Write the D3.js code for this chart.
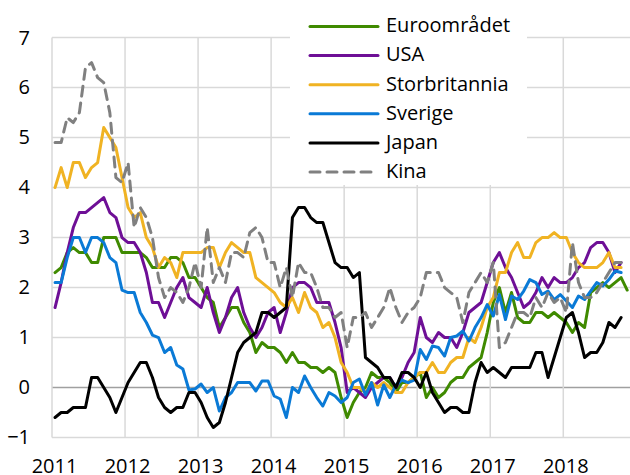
<!DOCTYPE html>
<html>
<head>
<meta charset="utf-8">
<script src="https://cdn.jsdelivr.net/npm/d3@7"></script>
<style>
  body { margin: 0; background: #fff; }
  svg { display: block; font-family: "Open Sans", sans-serif; }
</style>
</head>
<body>
<script>
// monthly inflation, % y/y, starting Jan 2011
var startYear = 2011;

var euro = [2.3, 2.4, 2.7, 2.8, 2.7, 2.7, 2.5, 2.5, 3.0, 3.0, 3.0, 2.7,
            2.7, 2.7, 2.7, 2.6, 2.4, 2.4, 2.4, 2.6, 2.6, 2.5, 2.2, 2.2,
            2.0, 1.8, 1.7, 1.2, 1.4, 1.6, 1.6, 1.3, 1.1, 0.7, 0.9, 0.8,
            0.8, 0.7, 0.5, 0.7, 0.5, 0.5, 0.4, 0.4, 0.3, 0.4, 0.3, -0.2,
            -0.6, -0.3, -0.1, 0.0, 0.3, 0.2, 0.2, 0.1, -0.1, 0.1, 0.1, 0.2,
            0.3, -0.2, 0.0, -0.2, -0.1, 0.1, 0.2, 0.2, 0.4, 0.5, 0.6, 1.1,
            1.7, 2.0, 1.5, 1.9, 1.4, 1.3, 1.3, 1.5, 1.5, 1.4, 1.5, 1.4,
            1.3, 1.1, 1.3, 1.2, 1.9, 2.0, 2.1, 2.0, 2.1, 2.2, 1.95];

var usa = [1.6, 2.1, 2.7, 3.2, 3.5, 3.5, 3.6, 3.7, 3.8, 3.5, 3.4, 3.0,
           2.9, 2.9, 2.7, 2.3, 1.7, 1.7, 1.4, 1.7, 2.0, 2.2, 1.8, 1.7,
           1.6, 2.0, 1.5, 1.1, 1.4, 1.8, 2.0, 1.5, 1.2, 1.0, 1.2, 1.5,
           1.6, 1.1, 1.5, 2.0, 2.1, 2.1, 2.0, 1.7, 1.7, 1.7, 1.3, 0.8,
           -0.1, 0.0, -0.1, -0.2, 0.0, 0.1, 0.2, 0.2, 0.0, 0.2, 0.5, 0.7,
           1.4, 1.0, 0.9, 1.1, 1.0, 1.0, 0.8, 1.1, 1.5, 1.6, 1.7, 2.1,
           2.5, 2.7, 2.4, 2.2, 1.9, 1.6, 1.7, 1.9, 2.2, 2.0, 2.2, 2.1,
           2.1, 2.2, 2.4, 2.5, 2.8, 2.9, 2.9, 2.7, 2.3, 2.5];

var uk = [4.0, 4.4, 4.0, 4.5, 4.5, 4.2, 4.4, 4.5, 5.2, 5.0, 4.8, 4.2,
          3.6, 3.4, 3.5, 3.0, 2.8, 2.4, 2.6, 2.5, 2.2, 2.7, 2.7, 2.7,
          2.7, 2.8, 2.8, 2.4, 2.7, 2.9, 2.8, 2.7, 2.7, 2.2, 2.1, 2.0,
          1.9, 1.7, 1.6, 1.8, 1.5, 1.9, 1.6, 1.5, 1.2, 1.3, 1.0, 0.5,
          0.3, 0.0, 0.0, -0.1, 0.1, 0.0, 0.1, 0.0, -0.1, -0.1, 0.1, 0.2,
          0.3, 0.3, 0.5, 0.3, 0.3, 0.5, 0.6, 0.6, 1.0, 0.9, 1.2, 1.6,
          1.8, 2.3, 2.3, 2.7, 2.9, 2.6, 2.6, 2.9, 3.0, 3.0, 3.1, 3.0,
          3.0, 2.7, 2.5, 2.4, 2.4, 2.4, 2.5, 2.7, 2.4, 2.4];

var sweden = [2.1, 2.1, 2.6, 3.0, 3.0, 2.7, 3.0, 3.0, 2.9, 2.6, 2.5, 1.95,
              1.9, 1.9, 1.5, 1.3, 1.05, 1.0, 0.7, 0.8, 0.45, 0.37, -0.05, -0.03,
              0.07, -0.1, 0.0, -0.47, -0.2, -0.1, 0.1, 0.1, 0.1, -0.07, 0.13, 0.13,
              -0.17, -0.23, -0.6, 0.0, -0.1, 0.23, 0.0, -0.2, -0.37, -0.1, -0.17, -0.3,
              -0.2, 0.1, 0.17, -0.15, 0.1, -0.35, 0.05, -0.2, 0.05, 0.15, 0.1, 0.15,
              0.76, 0.56, 0.83, 0.8, 0.63, 1.0, 1.03, 1.13, 0.93, 1.2, 1.4, 1.66,
              1.43, 1.86, 1.36, 1.83, 1.76, 1.93, 2.16, 2.1, 1.86, 1.93, 1.76, 1.86,
              1.73, 1.6, 1.83, 1.76, 1.93, 2.1, 2.03, 2.16, 2.33, 2.3];

var japan = [-0.6, -0.5, -0.5, -0.4, -0.4, -0.4, 0.2, 0.2, 0.0, -0.2, -0.5, -0.2,
             0.1, 0.3, 0.5, 0.5, 0.2, -0.2, -0.4, -0.5, -0.4, -0.4, -0.1, -0.1,
             -0.3, -0.6, -0.8, -0.7, -0.3, 0.2, 0.7, 0.9, 1.0, 1.1, 1.5, 1.5,
             1.4, 1.5, 1.6, 3.4, 3.6, 3.6, 3.4, 3.3, 3.3, 2.9, 2.5, 2.4,
             2.4, 2.2, 2.3, 0.6, 0.5, 0.4, 0.2, 0.2, 0.0, 0.3, 0.3, 0.2,
             0.0, 0.3, -0.1, -0.3, -0.5, -0.4, -0.4, -0.5, -0.5, 0.1, 0.5, 0.3,
             0.4, 0.3, 0.2, 0.4, 0.4, 0.4, 0.4, 0.7, 0.7, 0.2, 0.6, 1.0,
             1.4, 1.5, 1.1, 0.6, 0.7, 0.7, 0.9, 1.3, 1.2, 1.4];

var china = [4.9, 4.9, 5.4, 5.3, 5.5, 6.4, 6.5, 6.2, 6.1, 5.5, 4.2, 4.1,
             4.5, 3.2, 3.6, 3.4, 3.0, 2.2, 1.8, 2.0, 1.9, 1.7, 2.0, 2.5,
             2.0, 3.2, 2.1, 2.4, 2.1, 2.7, 2.7, 2.6, 3.1, 3.2, 3.0, 2.5,
             2.5, 2.0, 2.4, 1.8, 2.5, 2.3, 2.3, 2.0, 1.6, 1.6, 1.4, 1.5,
             0.8, 1.4, 1.4, 1.5, 1.2, 1.4, 1.6, 2.0, 1.6, 1.3, 1.5, 1.6,
             1.8, 2.3, 2.3, 2.3, 2.0, 1.9, 1.8, 1.3, 1.9, 2.1, 2.3, 2.1,
             2.5, 0.8, 0.9, 1.2, 1.5, 1.5, 1.4, 1.8, 1.6, 1.9, 1.7, 1.8,
             1.5, 2.9, 2.1, 1.8, 1.8, 1.9, 2.1, 2.3, 2.5, 2.5];

var names = ["Euroområdet", "USA", "Storbritannia", "Sverige", "Japan", "Kina"];
var colors = ["#3f8a00", "#6e0f96", "#f0b323", "#0a7ad6", "#000000", "#808080"];
var seriesData = [euro, usa, uk, sweden, japan, china];

var yTicks = [-1, 0, 1, 2, 3, 4, 5, 6, 7];
var xYears = [2011, 2012, 2013, 2014, 2015, 2016, 2017, 2018];

var width = 630, height = 475;
var left = 52;
var kinaDash = "10,7";

var svg = d3.select("body").append("svg")
    .attr("width", width)
    .attr("height", height);

var x = d3.scaleLinear().domain([2011, 2019]).range([left, left + 8 * 73.04]);
var y = d3.scaleLinear().domain([-1, 7]).range([437.5, 37.6]);

// grid
svg.append("g").selectAll("line")
    .data(yTicks)
    .enter().append("line")
    .attr("x1", left).attr("x2", width)
    .attr("y1", d => y(d)).attr("y2", d => y(d))
    .attr("stroke", d => d === 0 ? "#a0a0a0" : "#d9d9d9")
    .attr("stroke-width", 1.5);

svg.append("g").selectAll("line")
    .data(xYears)
    .enter().append("line")
    .attr("x1", d => x(d)).attr("x2", d => x(d))
    .attr("y1", y(-1)).attr("y2", y(7))
    .attr("stroke", "#d9d9d9")
    .attr("stroke-width", 1.5);

// legend background covers grid
svg.append("rect")
    .attr("x", 290).attr("y", 0)
    .attr("width", 237).attr("height", 185)
    .attr("fill", "#fff");

// axes (labels only)
var yAxis = svg.append("g")
    .attr("transform", "translate(" + left + ",0)")
    .call(d3.axisLeft(y).tickValues(yTicks).tickSize(0).tickPadding(22));

var xAxis = svg.append("g")
    .attr("transform", "translate(2," + y(-1) + ")")
    .call(d3.axisBottom(x).tickValues(xYears).tickFormat(d3.format("d")).tickSize(0).tickPadding(21.5));

[yAxis, xAxis].forEach(function(g) {
  g.select(".domain").remove();
  g.selectAll("text")
    .attr("font-family", "'Open Sans', sans-serif")
    .attr("font-size", 20)
    .attr("fill", "#000");
});

// lines
var line = d3.line()
    .x((d, i) => x(startYear + (i + 0.5) / 12))
    .y(d => y(d));

svg.append("g").selectAll("path")
    .data(seriesData)
    .enter().append("path")
    .attr("d", d => line(d))
    .attr("fill", "none")
    .attr("stroke", (d, i) => colors[i])
    .attr("stroke-width", 3)
    .attr("stroke-linejoin", "round")
    .attr("stroke-linecap", "round")
    .attr("stroke-dasharray", (d, i) => names[i] === "Kina" ? kinaDash : null);

// legend
var legend = svg.append("g");
var rowY = i => 26.5 + i * 29.1;

legend.selectAll("line")
    .data(names)
    .enter().append("line")
    .attr("x1", 310).attr("x2", 378)
    .attr("y1", (d, i) => rowY(i)).attr("y2", (d, i) => rowY(i))
    .attr("stroke", (d, i) => colors[i])
    .attr("stroke-width", 3)
    .attr("stroke-linecap", "round")
    .attr("stroke-dasharray", d => d === "Kina" ? kinaDash : null);

legend.selectAll("text")
    .data(names)
    .enter().append("text")
    .attr("x", 386)
    .attr("y", (d, i) => rowY(i) + 5.8)
    .attr("font-size", 20)
    .attr("fill", "#000")
    .text(d => d);
</script>
</body>
</html>
